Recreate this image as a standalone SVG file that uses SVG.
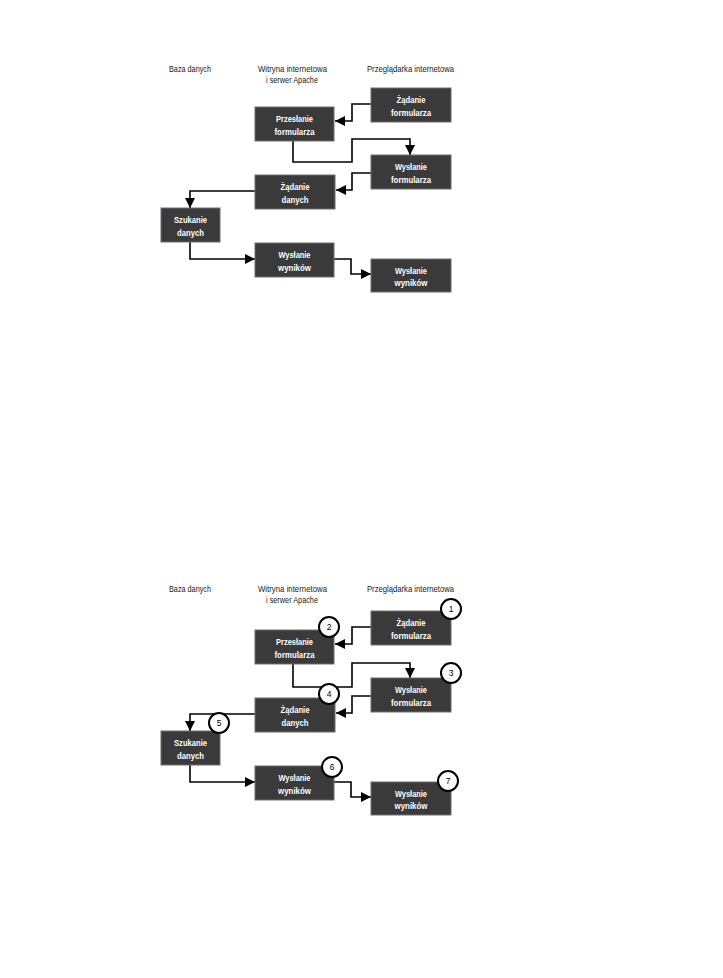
<svg xmlns="http://www.w3.org/2000/svg" width="723" height="978" viewBox="0 0 723 978">
<style>
.bx{fill:#3a3a3a;stroke:#6e6e6e;stroke-width:1}
.lb{font-family:"Liberation Sans",Arial,sans-serif;font-size:9.5px;font-weight:bold;fill:#ffffff;text-anchor:middle}
.hd{font-family:"Liberation Sans",Arial,sans-serif;font-size:9px;fill:#1a1a1a;text-anchor:middle}
.cn{fill:none;stroke:#000;stroke-width:1.6;marker-end:url(#ah)}
.ci{fill:#fff;stroke:#000;stroke-width:2}
.nm{font-family:"Liberation Sans",Arial,sans-serif;font-size:8.5px;fill:#000;text-anchor:middle}
</style>
<defs>
<marker id="ah" markerUnits="userSpaceOnUse" markerWidth="11" markerHeight="10" refX="10" refY="5" orient="auto">
<path d="M0,0 L10,5 L0,10 Z" fill="#000"/>
</marker>
</defs>
<rect width="723" height="978" fill="#fff"/>

<g id="headers-top">
<text class="hd" x="190" y="72" textLength="42" lengthAdjust="spacingAndGlyphs">Baza danych</text>
<text class="hd" x="292.5" y="72" textLength="69" lengthAdjust="spacingAndGlyphs">Witryna internetowa</text>
<text class="hd" x="292" y="82.5" textLength="52" lengthAdjust="spacingAndGlyphs">i serwer Apache</text>
<text class="hd" x="410.5" y="72" textLength="87" lengthAdjust="spacingAndGlyphs">Przeglądarka internetowa</text>
</g>

<g id="diagram-top">
<g id="connectors-top">
<path class="cn" d="M371,104 H352 V121 H335"/>
<path class="cn" d="M293,141 V162 H352 V139 H410 V155"/>
<path class="cn" d="M371,173 H352 V190 H336"/>
<path class="cn" d="M255,191 H190 V208"/>
<path class="cn" d="M190,242 V259 H255"/>
<path class="cn" d="M334,259 H351 V274 H371"/>
</g>
<g id="t-zadanie-formularza"><rect class="bx" x="371" y="88" width="80" height="34"/><text class="lb" x="411" y="103" textLength="29" lengthAdjust="spacingAndGlyphs">Żądanie</text><text class="lb" x="411" y="115.5" textLength="40" lengthAdjust="spacingAndGlyphs">formularza</text></g>
<g id="t-przeslanie-formularza"><rect class="bx" x="255" y="107" width="79" height="34"/><text class="lb" x="294.5" y="122" textLength="37" lengthAdjust="spacingAndGlyphs">Przesłanie</text><text class="lb" x="294.5" y="134.5" textLength="40" lengthAdjust="spacingAndGlyphs">formularza</text></g>
<g id="t-wyslanie-formularza"><rect class="bx" x="371" y="155" width="80" height="34"/><text class="lb" x="411" y="170" textLength="32" lengthAdjust="spacingAndGlyphs">Wysłanie</text><text class="lb" x="411" y="182.5" textLength="40" lengthAdjust="spacingAndGlyphs">formularza</text></g>
<g id="t-zadanie-danych"><rect class="bx" x="255" y="175" width="80" height="34"/><text class="lb" x="295" y="190" textLength="29" lengthAdjust="spacingAndGlyphs">Żądanie</text><text class="lb" x="295" y="202.5" textLength="27" lengthAdjust="spacingAndGlyphs">danych</text></g>
<g id="t-szukanie-danych"><rect class="bx" x="161" y="208" width="59" height="34"/><text class="lb" x="190.5" y="223" textLength="33" lengthAdjust="spacingAndGlyphs">Szukanie</text><text class="lb" x="190.5" y="235.5" textLength="27" lengthAdjust="spacingAndGlyphs">danych</text></g>
<g id="t-wyslanie-wynikow-serwer"><rect class="bx" x="255" y="243" width="79" height="34"/><text class="lb" x="294.5" y="258" textLength="32" lengthAdjust="spacingAndGlyphs">Wysłanie</text><text class="lb" x="294.5" y="270.5" textLength="33" lengthAdjust="spacingAndGlyphs">wyników</text></g>
<g id="t-wyslanie-wynikow-przegladarka"><rect class="bx" x="371" y="259" width="80" height="33"/><text class="lb" x="411" y="273.5" textLength="32" lengthAdjust="spacingAndGlyphs">Wysłanie</text><text class="lb" x="411" y="286" textLength="33" lengthAdjust="spacingAndGlyphs">wyników</text></g>
</g>

<g id="headers-bottom">
<text class="hd" x="190" y="592" textLength="42" lengthAdjust="spacingAndGlyphs">Baza danych</text>
<text class="hd" x="292.5" y="592" textLength="69" lengthAdjust="spacingAndGlyphs">Witryna internetowa</text>
<text class="hd" x="292" y="602.5" textLength="52" lengthAdjust="spacingAndGlyphs">i serwer Apache</text>
<text class="hd" x="410.5" y="592" textLength="87" lengthAdjust="spacingAndGlyphs">Przeglądarka internetowa</text>
</g>

<g id="diagram-bottom" transform="translate(0,523)">
<g id="connectors-bottom">
<path class="cn" d="M371,104 H352 V121 H335"/>
<path class="cn" d="M293,141 V164 H352 V140 H410 V155"/>
<path class="cn" d="M371,173 H352 V190 H336"/>
<path class="cn" d="M255,191 H190 V208"/>
<path class="cn" d="M190,242 V259 H255"/>
<path class="cn" d="M334,259 H351 V274 H371"/>
</g>
<g id="b-zadanie-formularza"><rect class="bx" x="371" y="88" width="80" height="34"/><text class="lb" x="411" y="103" textLength="29" lengthAdjust="spacingAndGlyphs">Żądanie</text><text class="lb" x="411" y="115.5" textLength="40" lengthAdjust="spacingAndGlyphs">formularza</text></g>
<g id="b-przeslanie-formularza"><rect class="bx" x="255" y="107" width="79" height="34"/><text class="lb" x="294.5" y="122" textLength="37" lengthAdjust="spacingAndGlyphs">Przesłanie</text><text class="lb" x="294.5" y="134.5" textLength="40" lengthAdjust="spacingAndGlyphs">formularza</text></g>
<g id="b-wyslanie-formularza"><rect class="bx" x="371" y="155" width="80" height="34"/><text class="lb" x="411" y="170" textLength="32" lengthAdjust="spacingAndGlyphs">Wysłanie</text><text class="lb" x="411" y="182.5" textLength="40" lengthAdjust="spacingAndGlyphs">formularza</text></g>
<g id="b-zadanie-danych"><rect class="bx" x="255" y="175" width="80" height="34"/><text class="lb" x="295" y="190" textLength="29" lengthAdjust="spacingAndGlyphs">Żądanie</text><text class="lb" x="295" y="202.5" textLength="27" lengthAdjust="spacingAndGlyphs">danych</text></g>
<g id="b-szukanie-danych"><rect class="bx" x="161" y="208" width="59" height="34"/><text class="lb" x="190.5" y="223" textLength="33" lengthAdjust="spacingAndGlyphs">Szukanie</text><text class="lb" x="190.5" y="235.5" textLength="27" lengthAdjust="spacingAndGlyphs">danych</text></g>
<g id="b-wyslanie-wynikow-serwer"><rect class="bx" x="255" y="243" width="79" height="34"/><text class="lb" x="294.5" y="258" textLength="32" lengthAdjust="spacingAndGlyphs">Wysłanie</text><text class="lb" x="294.5" y="270.5" textLength="33" lengthAdjust="spacingAndGlyphs">wyników</text></g>
<g id="b-wyslanie-wynikow-przegladarka"><rect class="bx" x="371" y="259" width="80" height="33"/><text class="lb" x="411" y="273.5" textLength="32" lengthAdjust="spacingAndGlyphs">Wysłanie</text><text class="lb" x="411" y="286" textLength="33" lengthAdjust="spacingAndGlyphs">wyników</text></g>
<g id="step-1"><circle class="ci" cx="451" cy="86" r="10"/><text class="nm" x="451" y="89">1</text></g>
<g id="step-2"><circle class="ci" cx="329" cy="104" r="10"/><text class="nm" x="329" y="107">2</text></g>
<g id="step-3"><circle class="ci" cx="451" cy="150" r="10"/><text class="nm" x="451" y="153">3</text></g>
<g id="step-4"><circle class="ci" cx="329" cy="171" r="10"/><text class="nm" x="329" y="174">4</text></g>
<g id="step-5"><circle class="ci" cx="219" cy="200" r="10"/><text class="nm" x="219" y="203">5</text></g>
<g id="step-6"><circle class="ci" cx="332" cy="244" r="10"/><text class="nm" x="332" y="247">6</text></g>
<g id="step-7"><circle class="ci" cx="448" cy="258" r="10"/><text class="nm" x="448" y="261">7</text></g>
</g>
</svg>
